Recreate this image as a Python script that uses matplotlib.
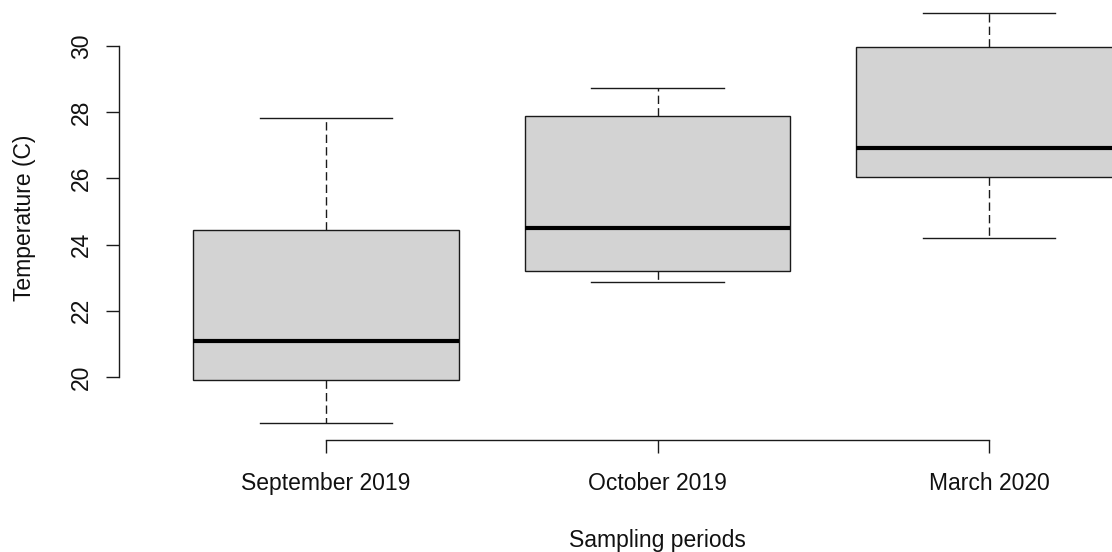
import matplotlib
matplotlib.use("Agg")
import matplotlib.pyplot as plt

# Temperature summary per sampling period (five-number summaries)
periods = ["September 2019", "October 2019", "March 2020"]
whisker_low = [18.6, 22.87, 24.2]
quartile_1 = [19.9, 23.2, 26.04]
medians = [21.08, 24.5, 26.92]
quartile_3 = [24.45, 27.88, 29.97]
whisker_high = [27.82, 28.73, 31.0]
y_ticks = [20, 22, 24, 26, 28, 30]

plt.rcParams["font.family"] = ["Liberation Sans", "DejaVu Sans"]

W, H, DPI = 1112, 552, 100
fig = plt.figure(figsize=(W / DPI, H / DPI), dpi=DPI)
ax = fig.add_axes([119 / W, 112 / H, 1 - 119 / W, 1 - 112 / H])

stats = [
    dict(label=p, whislo=lo, q1=a, med=m, q3=b, whishi=hi, fliers=[])
    for p, lo, a, m, b, hi in zip(periods, whisker_low, quartile_1,
                                  medians, quartile_3, whisker_high)
]
positions = list(range(1, len(periods) + 1))

ax.bxp(
    stats,
    positions=positions,
    widths=0.8,
    capwidths=0.4,
    patch_artist=True,
    boxprops=dict(facecolor="#d3d3d3", edgecolor="#1a1a1a", linewidth=1.0),
    medianprops=dict(color="black", linewidth=3.0, solid_capstyle="butt"),
    whiskerprops=dict(color="#1a1a1a", linewidth=1.0, linestyle=(0, (6, 3))),
    capprops=dict(color="#1a1a1a", linewidth=1.0),
    showfliers=False,
)

ax.set_xlim(0.3756, 3.371)
ax.set_ylim(18.097, 31.39)

for side in ("top", "right"):
    ax.spines[side].set_visible(False)
ax.spines["left"].set_bounds(20, 30)
ax.spines["bottom"].set_bounds(1, 3)
for side in ("left", "bottom"):
    ax.spines[side].set_color("#1a1a1a")
    ax.spines[side].set_linewidth(1.0)

fs = 16.5
ax.set_xticks(positions)
ax.set_xticklabels(periods, fontsize=fs, color="#111111")
ax.set_yticks(y_ticks)
ax.set_yticklabels([str(t) for t in y_ticks], fontsize=fs, rotation=90,
                   va="center", color="#111111")
ax.tick_params(axis="both", direction="out", length=9.4, width=1.0, color="#1a1a1a")
ax.tick_params(axis="x", pad=13.5)
ax.tick_params(axis="y", pad=9.5)

ax.set_xlabel("Sampling periods", fontsize=fs, va="center", color="#111111")
ax.xaxis.set_label_coords((2.0 - 0.3756) / (3.371 - 0.3756), -101 / 440)
ax.set_ylabel("Temperature (C)", fontsize=fs, va="center", color="#111111")
ax.yaxis.set_label_coords(-(119 - 25) / (W - 119), (440 - 218) / 440)

fig.savefig("out.png", dpi=DPI)
